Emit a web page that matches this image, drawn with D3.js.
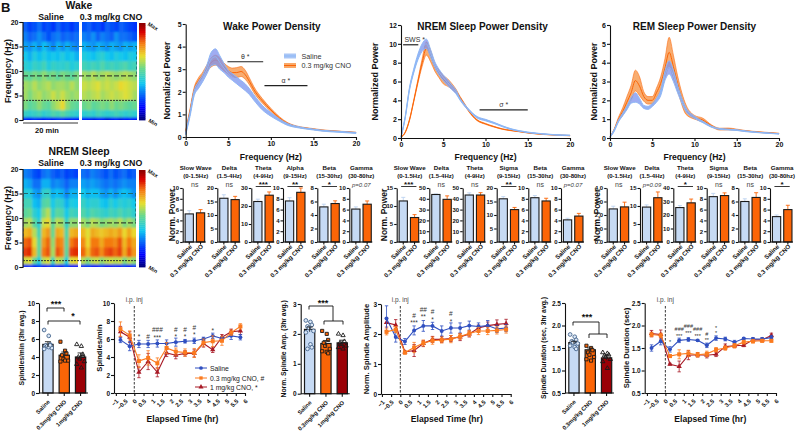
<!DOCTYPE html>
<html>
<head>
<meta charset="utf-8">
<script src="https://cdnjs.cloudflare.com/ajax/libs/d3/7.8.5/d3.min.js"></script>
<style>
	html, body { margin: 0; padding: 0; background: #fff; }
	svg { display: block; font-family: "Liberation Sans", Arial, sans-serif; }
	.axis path, .axis line { stroke: #111; stroke-width: 1.1px; }
	.axis text { fill: #111; font-weight: bold; }
</style>
</head>
<body>
<script>
	// spectrogram cells, rows run from 20 Hz down to 0 Hz, values on a 0-100 colour scale
	var freqEdges = [20, 18, 16, 14, 12, 10, 8, 6, 4, 2, 0.5, 0];
	var wakeSaline = [
		[24,20,22,26,20,22,18,24,20,22,18,22],
		[28,24,26,30,26,22,26,28,24,26,24,26],
		[32,30,34,30,36,32,28,34,30,34,30,28],
		[38,34,40,36,40,36,38,36,40,36,38,34],
		[42,40,44,42,46,40,44,42,42,44,40,42],
		[52,50,54,52,56,52,54,50,54,52,50,54],
		[58,56,60,56,58,60,56,58,58,56,60,56],
		[58,54,58,60,56,58,62,58,62,58,56,58],
		[54,50,52,56,52,50,56,60,66,56,52,50],
		[44,42,44,46,42,44,48,46,50,46,44,42],
		[14,12,16,14,12,14,12,16,14,12,14,12]];
	var wakeCno = [
		[22,24,20,22,18,24,22,20,24,22,20,18],
		[28,26,30,24,28,26,24,30,26,26,24,22],
		[34,32,30,34,32,30,34,32,30,34,32,34],
		[40,38,36,40,42,38,36,40,38,36,40,38],
		[46,44,46,44,48,44,46,44,46,48,44,46],
		[58,56,60,56,58,60,58,56,58,60,58,56],
		[62,60,62,64,60,62,60,62,66,64,62,60],
		[60,58,60,62,58,60,62,60,62,64,62,58],
		[52,54,50,52,54,52,56,52,54,52,50,52],
		[42,44,42,46,44,42,44,46,44,42,44,42],
		[14,12,10,14,12,8,12,14,10,12,14,12]];
	var nremSaline = [
		[28,26,22,20,26,28,24,22,24,20,22,20],
		[34,32,26,26,34,34,28,30,28,24,28,28],
		[40,40,32,30,42,44,34,36,34,28,34,34],
		[46,46,36,34,48,50,38,44,42,34,40,38],
		[50,52,42,38,54,60,42,50,48,38,46,44],
		[58,60,50,42,62,66,50,60,58,44,56,56],
		[70,72,60,46,70,74,52,72,70,48,70,72],
		[80,82,66,50,74,80,56,78,76,50,78,82],
		[84,86,70,50,78,82,58,82,78,50,84,86],
		[62,64,52,40,60,64,46,62,58,40,64,66],
		[16,18,14,20,14,16,20,16,14,22,14,14]];
	var nremCno = [
		[26,24,28,26,24,22,26,22,24,26,22,24],
		[32,30,32,30,28,26,28,26,28,30,28,28],
		[38,34,36,36,32,30,34,30,34,36,34,30],
		[44,40,42,42,38,36,42,38,42,40,42,38],
		[48,44,48,46,44,42,46,44,48,44,46,42],
		[58,54,60,58,54,56,58,56,60,54,58,54],
		[70,64,72,70,68,70,72,70,74,66,72,66],
		[76,66,78,78,72,78,78,76,82,70,78,72],
		[80,70,80,82,76,82,84,80,84,72,82,74],
		[60,54,60,62,56,60,62,60,62,54,60,56],
		[16,18,14,14,18,14,14,16,14,18,14,18]];

	// power density curves
	var freqs = [0,.5,1,1.5,2,2.5,3,3.5,4,4.5,5,5.5,6,6.5,7,7.5,8,9,10,11,12,13,14,15,16,18,20];
	var wakeSalMean = [.15,1,1.95,2.3,2.6,3,3.45,3.55,3.3,3.05,2.8,2.65,2.5,2.35,2.2,2,1.75,1.3,1,.75,.55,.45,.38,.33,.28,.23,.18];
	var wakeSalErr = [.05,.1,.12,.15,.15,.2,.3,.35,.3,.2,.15,.15,.15,.15,.15,.13,.12,.1,.08,.05,.04,.03,.02,.02,.02,.02,.02];
	var wakeCnoMean = [.25,1.15,2.1,2.5,2.75,3.05,3.3,3.4,3.3,3.1,2.95,2.85,2.85,2.9,2.75,2.45,2.1,1.6,1.2,.85,.6,.47,.4,.35,.3,.25,.2];
	var wakeCnoErr = [.05,.08,.1,.12,.12,.15,.2,.22,.2,.17,.17,.2,.22,.22,.2,.15,.13,.1,.07,.05,.03,.02,.02,.02,.02,.01,.01];
	var nremSalMean = [.1,2.2,5.2,7.1,8.6,9.6,10,9,7.8,7,6.4,5.9,5.4,4.9,4.1,3.5,3,2.2,1.9,1.6,1.25,.95,.75,.6,.5,.35,.28];
	var nremSalErr = [.02,.1,.15,.2,.3,.4,.5,.4,.3,.3,.3,.3,.25,.2,.1,.1,.08,.08,.08,.06,.05,.04,.03,.03,.02,.02,.02];
	var nremCnoMean = [.1,.6,1.9,3.9,6,8,9.5,8.7,7.5,6.8,6.2,5.9,5.5,5,4.3,3.6,2.9,1.9,1.5,1.2,.95,.8,.68,.55,.45,.33,.25];
	var nremCnoErr = [.02,.05,.08,.1,.2,.4,.7,.6,.4,.4,.45,.4,.3,.2,.1,.1,.08,.06,.05,.04,.03,.03,.02,.02,.02,.02,.02];
	var remSalMean = [.05,.4,.9,1.25,1.6,2,2.15,1.95,1.65,1.6,1.75,2,2.4,3.3,3.75,3.3,2.6,1.5,1.1,.85,.6,.48,.45,.42,.36,.28,.22];
	var remSalErr = [.02,.05,.05,.07,.1,.15,.25,.15,.08,.08,.08,.1,.15,.25,.35,.3,.2,.1,.06,.04,.03,.02,.02,.02,.02,.01,.01];
	var remCnoMean = [.05,.45,1,1.4,1.9,2.4,3.05,2.75,2.2,2,2,2.4,2.9,3.7,4.55,3.8,2.9,1.5,1.1,.95,.65,.47,.48,.44,.38,.3,.24];
	var remCnoErr = [0,.03,.1,.2,.3,.4,.55,.5,.25,.2,.2,.25,.35,.5,.8,.6,.4,.25,.1,.1,.05,.05,.05,.03,.02,.02,.01];

	// band power bars: saline, CNO
	var groups = ["Saline", "0.3 mg/kg CNO"];
	var wakeBands = [["Slow Wave","(0-1.5Hz)"],["Delta","(1.5-4Hz)"],["Theta","(4-9Hz)"],["Alpha","(9-15Hz)"],["Beta","(15-30hz)"],["Gamma","(30-80hz)"]];
	var nremBands = [["Slow Wave","(0-1.5Hz)"],["Delta","(1.5-4Hz)"],["Theta","(4-9Hz)"],["Sigma","(9-15Hz)"],["Beta","(15-30hz)"],["Gamma","(30-80hz)"]];
	var wakeBarMax = [10,20,30,10,8,10];
	var wakeBarTicks = [[0,2,4,6,8,10],[0,5,10,15,20],[0,10,20,30],[0,2,4,6,8,10],[0,2,4,6,8],[0,2,4,6,8,10]];
	var wakeBarVals = [[5.2,5.4],[16.2,15.7],[22.5,26],[7.6,9.2],[5.2,5.7],[6.1,7]];
	var wakeBarErrs = [[.6,.6],[1.3,1.2],[1.3,1.8],[.6,.8],[.4,.4],[.4,.6]];
	var wakeBarSig = ["ns","ns","***","**","*","p=0.07"];
	var nremBarMax = [15,50,50,20,10,10];
	var nremBarTicks = [[0,5,10,15],[0,10,20,30,40,50],[0,10,20,30,40,50],[0,5,10,15,20],[0,2,4,6,8,10],[0,2,4,6,8,10]];
	var nremBarVals = [[11.4,6.8],[44,39.5],[43.5,43.5],[16,12],[8.2,7.6],[4.1,4.8]];
	var nremBarErrs = [[1,.8],[.5,3.2],[2,2.2],[.8,.8],[.4,.5],[.3,.5]];
	var nremBarSig = ["***","ns","ns","**","ns","p=0.07"];
	var remBarMax = [4,15,40,10,8,10];
	var remBarTicks = [[0,1,2,3,4],[0,5,10,15],[0,10,20,30,40],[0,2,4,6,8,10],[0,2,4,6,8],[0,2,4,6,8,10]];
	var remBarVals = [[2.45,2.6],[9.7,12.3],[25.5,29],[8.4,8.6],[6,6.6],[4.7,6]];
	var remBarErrs = [[.2,.35],[.6,1.6],[1.5,2.8],[.6,.5],[.4,.7],[.3,.8]];
	var remBarSig = ["ns","p=0.09","*","ns","ns","*"];

	// spindle summary bars and animals
	var doseNames = ["Saline", "0.3mg/kg CNO", "1mg/kg CNO"];
	var densBars = [5.4, 4.2, 4.0];
	var densErrs = [.3, .35, .45];
	var densPts = [[7,6.35,5.4,5.3,5.2,5,4.9,5.1,5.3],[5.7,4.7,4.4,4.2,3.8,3.6,3.5,3.6],[5.4,5.2,4.3,4,3.8,3.5,3.2,2.8,4.1]];
	var ampBars = [2.15, 1.68, 1.7];
	var ampErrs = [.08, .1, .09];
	var ampPts = [[2.45,2.4,2.3,2.25,2.2,2.1,2.05,1.65,1.55,1.5],[2.1,2,1.8,1.7,1.6,1.5,1.42,1.4,1.35],[2,1.95,1.75,1.7,1.65,1.6,1.55,1.5]];
	var durBars = [1.62, 1.46, 1.28];
	var durErrs = [.03, .04, .05];
	var durPts = [[1.8,1.75,1.68,1.65,1.62,1.6,1.55,1.52,1.48],[1.55,1.5,1.45,1.4,1.35,1.3,1.25,1.22],[1.4,1.38,1.35,1.33,1.3,1.25,1.2,1.05]];

	// spindle time courses
	var timeTicks = [-1,-.5,0,.5,1,1.5,2,2.5,3,3.5,4,4.5,5,5.5,6];
	var times = [-.75,-.25,.25,.75,1.25,1.75,2.25,2.75,3.25,3.75,4.25,4.75,5.25,5.75];
	var densSal = [5.9,5.2,5.45,5.45,5.5,5.5,5.65,5.75,5.8,6,6.35,6.05,6.35,6.2];
	var densSalErr = [.3,.5,.4,.4,.4,.4,.45,.2,.3,.2,.3,.2,.4,.3];
	var densLow = [7.1,6.4,3.55,3.9,3.3,5,4.6,4.5,4.45,5.6,5.75,5.8,6.7,7.4];
	var densLowErr = [.8,.5,.7,.8,.6,.6,.4,.4,.5,.4,.6,.5,.3,.3];
	var densHigh = [6.8,6.2,2.3,3.5,2.3,4.45,4.2,4.4,4.4,5.5,4.8,6.2,6.8,6.9];
	var densHighErr = [.6,.6,.6,.9,.5,.4,.4,.3,.4,.4,.3,.3,.3,.4];
	var ampSal = [2.52,1.9,1.75,2.12,2.27,2.27,2.1,2.2,2.2,2.28,2.25,2.28,2.17,2.2];
	var ampSalErr = [.42,.17,.1,.15,.18,.12,.17,.17,.17,.15,.12,.17,.12,.12];
	var ampLow = [2.07,2.15,1.38,1.55,1.7,1.78,1.8,1.83,1.92,2.02,2.1,2.1,2.12,2.15];
	var ampLowErr = [.1,.1,.05,.17,.1,.12,.1,.12,.1,.1,.12,.12,.12,.12];
	var ampHigh = [2.38,2.3,1.4,1.45,1.68,1.82,1.82,1.85,1.9,2,2.2,2.28,2.32,2.35];
	var ampHighErr = [.15,.18,.03,.2,.1,.1,.1,.1,.12,.1,.1,.12,.15,.14];
	var durSal = [1.5,1.65,1.47,1.67,1.69,1.67,1.56,1.72,1.7,1.63,1.71,1.7,1.7,1.73];
	var durSalErr = [.07,.08,.06,.05,.04,.02,.05,.05,.04,.04,.02,.03,.03,.05];
	var durLow = [1.8,1.78,1.32,1.36,1.38,1.35,1.37,1.46,1.5,1.55,1.63,1.65,1.66,1.66];
	var durLowErr = [.05,.05,.03,.1,.07,.05,.06,.05,.05,.05,.04,.04,.03,.03];
	var durHigh = [1.82,1.8,1.14,1.09,1.34,1.35,1.34,1.36,1.53,1.55,1.56,1.68,1.68,1.78];
	var durHighErr = [.07,.1,.02,.12,.1,.05,.06,.05,.06,.04,.03,.04,.04,.05];

	var lightBlue = "#c6daf4", salLine = "#8db8f6", salBand = "#7f90ee";
	var orange = "#fb6507", orangeBand = "#f8a868", darkRed = "#9a0006";
	var lineBlue = "#2f4fc0", lineOrange = "#fb7a1e", lineRed = "#a81a26";

	var svg = d3.select("body").append("svg").attr("width", 797).attr("height", 433);

	var defs = svg.append("defs");
	defs.append("filter").attr("id", "soft").append("feGaussianBlur").attr("stdDeviation", "0.9 1.3");

	var jet = d3.scaleLinear()
		.domain([0, 12, 37, 52, 65, 78, 90, 100])
		.range(["#00007f", "#0000ff", "#10c8f0", "#68d890", "#e8e030", "#f47a10", "#d80000", "#7f0000"]);

	function label(x, y, txt, size, opts) {
		opts = opts || {};
		var t = svg.append("text")
			.attr("x", x)
			.attr("y", y)
			.attr("text-anchor", opts.anchor || "middle")
			.style("font-size", size + "px")
			.style("font-weight", opts.weight || "bold")
			.style("font-style", opts.italic ? "italic" : "normal")
			.attr("fill", opts.fill || "#111")
			.text(txt);
		if (opts.rotate) t.attr("transform", "rotate(" + opts.rotate + " " + x + " " + y + ")");
		return t;
	}

	function seg(x1, y1, x2, y2, w, color, dash) {
		var l = svg.append("line")
			.attr("x1", x1).attr("y1", y1).attr("x2", x2).attr("y2", y2)
			.attr("stroke", color || "#111")
			.attr("stroke-width", w || 1);
		if (dash) l.attr("stroke-dasharray", dash);
		return l;
	}

	var clipCount = 0;
	function spectrogram(cells, x0, x1, y) {
		var id = "clip" + (clipCount++);
		defs.append("clipPath").attr("id", id).append("rect")
			.attr("x", x0).attr("y", y(20)).attr("width", x1 - x0).attr("height", y(0) - y(20));
		var cx = d3.scaleLinear().domain([0, 12]).range([x0, x1]);
		var g = svg.append("g").attr("clip-path", "url(#" + id + ")").append("g").attr("filter", "url(#soft)");
		cells.forEach(function(row, r) {
			g.selectAll(null).data(row).enter().append("rect")
				.attr("x", function(d, c) { return cx(c) - (c == 0 ? 5 : 0); })
				.attr("width", function(d, c) { return cx(c + 1) - cx(c) + (c == 0 || c == 11 ? 5.5 : 0.5); })
				.attr("y", y(freqEdges[r]) - (r == 0 ? 5 : 0))
				.attr("height", y(freqEdges[r + 1]) - y(freqEdges[r]) + (r == 0 || r == 10 ? 5.5 : 0.5))
				.attr("fill", function(d) { return jet(d); });
		});
	}

	function spectroPanel(title, titleY, top, bot, cellsA, cellsB, xs, lowFreq) {
		var y = d3.scaleLinear().domain([0, 20]).range([bot, top]);
		spectrogram(cellsA, xs[0], xs[1], y);
		spectrogram(cellsB, xs[2], xs[3], y);
		svg.append("g").attr("class", "axis")
			.attr("transform", "translate(" + (xs[0] - 0.5) + ",0)")
			.call(d3.axisLeft(y).tickValues([0, 5, 10, 15, 20]).tickSize(3).tickPadding(1))
			.selectAll("text").style("font-size", "7px");
		label(79, titleY, title, 10.4);
		label(51, titleY + 11, "Saline", 8.7);
		label(111, titleY + 11, "0.3 mg/kg CNO", 8.8);
		label(10.5, (top + bot) / 2, "Frequency (Hz)", 8.9, {rotate: -90});

		// band boxes
		seg(xs[0], y(15), xs[3], y(15), 1, "#1d6a70", "5 2");
		seg(xs[0], y(9), xs[3], y(9), 1, "#222", "5 2");
		seg(xs[0], y(lowFreq), xs[3], y(lowFreq), 0.9, "#222", "2 1");
		seg(xs[0] + 0.5, y(15), xs[0] + 0.5, y(lowFreq), 0.8, "#444", "3 2");
		seg(xs[3] - 0.5, y(15), xs[3] - 0.5, y(9), 0.8, "#1d6a70", "3 2");

		// colour bar, cells come from the colour scale itself
		var barY = d3.scaleLinear().domain([0, 100]).range([bot, top + 1]);
		svg.selectAll(null).data(d3.range(0, 100, 2)).enter().append("rect")
			.attr("x", 139).attr("width", 6.5)
			.attr("y", function(d) { return barY(d + 2); })
			.attr("height", function(d) { return barY(d) - barY(d + 2) + 0.4; })
			.attr("fill", function(d) { return jet(d); });
		label(152, top + 6, "Max", 5.5, {rotate: 30});
		label(152, bot + 4, "Min", 5.5, {rotate: 30});
	}

	function densityPanel(cfg) {
		var x = d3.scaleLinear().domain([0, 20]).range(cfg.xr);
		var y = d3.scaleLinear().domain([0, cfg.ymax]).range(cfg.yr);
		var area = d3.area().x(function(d) { return x(d[0]); })
			.y0(function(d) { return y(Math.max(0, d[1] - d[2])); })
			.y1(function(d) { return y(d[1] + d[2]); })
			.curve(d3.curveMonotoneX);
		var line = d3.line().x(function(d) { return x(d[0]); }).y(function(d) { return y(d[1]); }).curve(d3.curveMonotoneX);
		var sal = freqs.map(function(f, i) { return [f, cfg.sal[i], cfg.salErr[i]]; });
		var cno = freqs.map(function(f, i) { return [f, cfg.cno[i], cfg.cnoErr[i]]; });
		function drawCno() {
			svg.append("path").datum(cno).attr("d", area).attr("fill", orangeBand).attr("stroke", orange).attr("stroke-width", 0.6).attr("opacity", 0.95);
			svg.append("path").datum(cno).attr("d", line).attr("fill", "none").attr("stroke", orange).attr("stroke-width", 1);
		}
		function drawSal() {
			svg.append("path").datum(sal).attr("d", area).attr("fill", salBand).attr("fill-opacity", 0.75).attr("stroke", salLine).attr("stroke-width", 1);
			svg.append("path").datum(sal).attr("d", line).attr("fill", "none").attr("stroke", salLine).attr("stroke-width", 1);
		}
		drawCno();
		drawSal();
		svg.append("g").attr("class", "axis").attr("transform", "translate(" + cfg.xr[0] + ",0)")
			.call(d3.axisLeft(y).ticks(cfg.yticks).tickSize(3).tickPadding(1).tickSizeOuter(0))
			.selectAll("text").style("font-size", "7px");
		svg.append("g").attr("class", "axis").attr("transform", "translate(0," + cfg.yr[0] + ")")
			.call(d3.axisBottom(x).tickValues([0, 5, 10, 15, 20]).tickSize(3).tickPadding(1).tickSizeOuter(0))
			.selectAll("text").style("font-size", "7px");
		label(d3.mean(cfg.xr) + cfg.titleDx, 29.5, cfg.title, 10);
		label(d3.mean(cfg.xr), 160, "Frequency (Hz)", 8.6);
		label(cfg.ytitleX, d3.mean(cfg.yr), "Normalized Power", 9, {rotate: -90});
		(cfg.sig || []).forEach(function(s) {
			seg(x(s[0]), y(s[2]), x(s[1]), y(s[2]), 1.2, "#222");
			label(x((s[0] + s[1]) / 2) + (s[4] || 0), y(s[2]) - 2.5, s[3], 7, {weight: "normal", fill: "#333"});
		});
		return {x: x, y: y};
	}

	function barRow(cfg) {
		var top = 188, bot = 242;
		cfg.bands.forEach(function(band, i) {
			var ax = cfg.axes[i];
			var x = d3.scaleBand().domain(groups).range([ax + 2.2, ax + 22.2]).paddingInner(0.27).paddingOuter(0.02);
			var y = d3.scaleLinear().domain([0, cfg.max[i]]).range([bot, top]);
			groups.forEach(function(gname, k) {
				var v = cfg.vals[i][k], e = cfg.errs[i][k];
				var cx = x(gname) + x.bandwidth() / 2;
				seg(cx, y(v), cx, y(v + e), 0.9, k == 0 ? "#bcd2f0" : orange);
				seg(cx - 2, y(v + e), cx + 2, y(v + e), 0.9, k == 0 ? "#bcd2f0" : orange);
			});
			svg.selectAll(null).data(groups).enter().append("rect")
				.attr("x", function(d) { return x(d); })
				.attr("width", x.bandwidth())
				.attr("y", function(d, k) { return y(cfg.vals[i][k]); })
				.attr("height", function(d, k) { return bot - y(cfg.vals[i][k]); })
				.attr("fill", function(d, k) { return k == 0 ? lightBlue : orange; })
				.attr("stroke", "#1a1a1a")
				.attr("stroke-width", 1.1);
			svg.append("g").attr("class", "axis").attr("transform", "translate(" + ax + ",0)")
				.call(d3.axisLeft(y).tickValues(cfg.ticks[i]).tickSize(2.5).tickPadding(1).tickSizeOuter(0))
				.selectAll("text").style("font-size", "6px");
			var xg = svg.append("g").attr("class", "axis").attr("transform", "translate(0," + bot + ")")
				.call(d3.axisBottom(x).tickSize(2.5).tickSizeOuter(0));
			xg.select("path").attr("d", "M" + ax + ",0H" + (ax + 23));
			xg.selectAll("text")
				.style("font-size", "6.2px")
				.attr("text-anchor", "end")
				.attr("dx", "-1.3").attr("dy", "0.2")
				.attr("transform", "rotate(-45)");
			var mid = ax + 12;
			label(mid + (i == 0 ? 1 : 0), 170, band[0], 6.2);
			label(mid + (i == 0 ? 1 : 0), 178, band[1], 6);
			var s = cfg.sig[i];
			if (s == "ns") {
				label(mid, 187, s, 7, {weight: "normal", fill: "#444"});
			} else if (s[0] == "p") {
				label(mid, 187, s, 6, {weight: "normal", italic: true, fill: "#444"});
			} else {
				seg(x(groups[0]) + 2, 186.5, x(groups[1]) + 6, 186.5, 0.9, "#222");
				label(mid, 187, s, 8);
			}
		});
		label(cfg.titleX, 215, "Norm. Power", 8.5, {rotate: -90});
	}

	var doseSymbols = [d3.symbolCircle, d3.symbolSquare, d3.symbolTriangle];
	var doseFills = [lightBlue, orange, darkRed];
	var doseStroke = ["#44648c", "#1a1a1a", "#1a1a1a"];

	function summaryBars(cfg) {
		var y = d3.scaleLinear().domain(cfg.ydom).range([cfg.bot, cfg.top]);
		var x = d3.scaleBand().domain(doseNames).range([cfg.ax + 2.5, cfg.ax + 48]).paddingInner(0.37).paddingOuter(0.08);
		svg.selectAll(null).data(doseNames).enter().append("rect")
			.attr("x", function(d) { return x(d); })
			.attr("width", x.bandwidth())
			.attr("y", function(d, i) { return y(cfg.vals[i]); })
			.attr("height", function(d, i) { return cfg.bot - y(cfg.vals[i]); })
			.attr("fill", function(d, i) { return doseFills[i]; })
			.attr("stroke", "#1a1a1a")
			.attr("stroke-width", 1.2);
		doseNames.forEach(function(d, i) {
			var cx = x(d) + x.bandwidth() / 2;
			cfg.pts[i].forEach(function(v, j) {
				// small sideways spread so the animals do not sit on top of each other
				var off = (j % 3 - 1) * 3 + (j % 2 ? 0.8 : -0.8);
				svg.append("path")
					.attr("d", d3.symbol().type(doseSymbols[i]).size(i == 0 ? 11 : (i == 1 ? 10 : 8))())
					.attr("transform", "translate(" + (cx + off) + "," + y(v) + ")")
					.attr("fill", i == 0 ? "#dce8f7" : (i == 1 ? orange : "none"))
					.attr("stroke", doseStroke[i])
					.attr("stroke-width", 0.9);
			});
			seg(cx, y(cfg.vals[i] + cfg.errs[i]), cx, y(cfg.vals[i] - cfg.errs[i]), 0.9, "#222");
			seg(cx - 3, y(cfg.vals[i] + cfg.errs[i]), cx + 3, y(cfg.vals[i] + cfg.errs[i]), 0.9, "#222");
		});
		svg.append("g").attr("class", "axis").attr("transform", "translate(" + cfg.ax + ",0)")
			.call(d3.axisLeft(y).tickValues(cfg.ticks).tickFormat(cfg.fmt).tickSize(3).tickPadding(1).tickSizeOuter(0))
			.selectAll("text").style("font-size", "6.5px");
		var xg = svg.append("g").attr("class", "axis").attr("transform", "translate(0," + cfg.bot + ")")
			.call(d3.axisBottom(x).tickSize(3).tickSizeOuter(0));
		xg.select("path").attr("d", "M" + cfg.ax + ",0H" + (cfg.ax + 49));
		xg.selectAll("text")
			.style("font-size", "5.8px")
			.attr("text-anchor", "end")
			.attr("dx", "-4.9").attr("dy", "2.3")
			.attr("transform", "rotate(-45)");
		label(cfg.titleX, (cfg.top + cfg.bot) / 2, cfg.title, 6.8, {rotate: -90});
		return {x: x, y: y};
	}

	function timeCourse(cfg) {
		var x = d3.scaleLinear().domain(cfg.xdom).range(cfg.xr);
		var y = d3.scaleLinear().domain(cfg.ydom).range([cfg.bot, cfg.top]);
		var series = [
			{v: cfg.high, e: cfg.highErr, c: lineRed, s: d3.symbolTriangle, sz: 12},
			{v: cfg.sal, e: cfg.salErr, c: lineBlue, s: d3.symbolCircle, sz: 12},
			{v: cfg.low, e: cfg.lowErr, c: lineOrange, s: d3.symbolSquare, sz: 16}
		];
		seg(x(0), cfg.dashTop, x(0), cfg.bot, 0.9, "#222", "2.5 1.5");
		series.forEach(function(s) {
			var line = d3.line().x(function(d, i) { return x(times[i]); }).y(function(d) { return y(d); });
			svg.append("path").datum(s.v).attr("d", line).attr("fill", "none").attr("stroke", s.c).attr("stroke-width", 1.1);
			s.v.forEach(function(v, i) {
				var cx = x(times[i]);
				seg(cx, y(v - s.e[i]), cx, y(v + s.e[i]), 0.8, s.c);
				seg(cx - 1.7, y(v - s.e[i]), cx + 1.7, y(v - s.e[i]), 0.8, s.c);
				seg(cx - 1.7, y(v + s.e[i]), cx + 1.7, y(v + s.e[i]), 0.8, s.c);
				svg.append("path")
					.attr("d", d3.symbol().type(s.s).size(s.sz)())
					.attr("transform", "translate(" + cx + "," + y(v) + ")")
					.attr("fill", s.c);
			});
		});
		svg.append("g").attr("class", "axis").attr("transform", "translate(" + cfg.xr[0] + ",0)")
			.call(d3.axisLeft(y).tickValues(cfg.ticks).tickFormat(cfg.fmt).tickSize(3).tickPadding(1).tickSizeOuter(0))
			.selectAll("text").style("font-size", "6.5px");
		svg.append("g").attr("class", "axis").attr("transform", "translate(0," + cfg.bot + ")")
			.call(d3.axisBottom(x).tickValues(timeTicks).tickFormat(d3.format("")).tickSize(3).tickSizeOuter(0))
			.selectAll("text")
			.style("font-size", "6px")
			.attr("text-anchor", "end")
			.attr("dx", "-4.3").attr("dy", "2")
			.attr("transform", "rotate(-45)");
		label(x(0), 302, "i.p. inj", 6.5, {weight: "normal", fill: "#444"});
		label(cfg.titleX, (cfg.top + cfg.bot) / 2, cfg.title, 7.6, {rotate: -90});
		label(d3.mean(cfg.xr) + cfg.xlabDx, 422, "Elapsed Time (hr)", 8.6);
		cfg.marks.forEach(function(m) {
			label(x(m[0]), y(m[1]) + 2.5, m[2], cfg.markSize || 6.5, {weight: "normal", fill: "#333"});
		});
		return {x: x, y: y};
	}

	// ---- spectrograms
	spectroPanel("Wake", 8.5, 22, 120, wakeSaline, wakeCno, [23, 79, 82, 137], 4);
	spectroPanel("NREM Sleep", 155, 169, 267, nremSaline, nremCno, [23, 78, 81, 136], 1.3);
	seg(23, 123, 78, 123, 0.9, "#222");
	label(47, 133, "20 min", 7.5);
	label(1, 11.5, "B", 13, {anchor: "start"});

	// ---- power density
	densityPanel({
		title: "Wake Power Density", titleDx: 1, xr: [185.7, 356], yr: [137, 24], ymax: 5, yticks: 5, ytitleX: 170,
		sal: wakeSalMean, salErr: wakeSalErr, cno: wakeCnoMean, cnoErr: wakeCnoErr,
		sig: [[4.9, 9.1, 3.33, "θ *"], [9.25, 14.3, 2.27, "α *"]]
	});
	densityPanel({
		title: "NREM Sleep Power Density", titleDx: -3, xr: [401, 570], yr: [138, 25], ymax: 12, yticks: 4, ytitleX: 378,
		sal: nremSalMean, salErr: nremSalErr, cno: nremCnoMean, cnoErr: nremCnoErr,
		sig: [[0.25, 2.05, 9.9, "SWS *", 4], [9.3, 15, 2.98, "σ *"]]
	});
	densityPanel({
		title: "REM Sleep Power Density", titleDx: 0, xr: [610, 779], yr: [138, 25], ymax: 6, yticks: 6, ytitleX: 597,
		sal: remSalMean, salErr: remSalErr, cno: remCnoMean, cnoErr: remCnoErr
	});

	// wake legend
	[["Saline", salLine, "#a9c6f6", 56], ["0.3 mg/kg CNO", orange, orangeBand, 65.5]].forEach(function(l) {
		svg.append("rect").attr("x", 284).attr("y", l[3] - 2.5).attr("width", 12).attr("height", 5).attr("fill", l[2]);
		seg(284, l[3], 296, l[3], 1, l[1]);
		label(301.5, l[3] + 2.5, l[0], 7.2, {anchor: "start", weight: "normal", fill: "#333"});
	});

	// ---- band bars
	barRow({titleX: 175, axes: [182.7, 217.3, 251.3, 283, 317.3, 349.3], bands: wakeBands, max: wakeBarMax, ticks: wakeBarTicks, vals: wakeBarVals, errs: wakeBarErrs, sig: wakeBarSig});
	barRow({titleX: 387, axes: [396.7, 429.3, 462.7, 496.7, 528.3, 561], bands: nremBands, max: nremBarMax, ticks: nremBarTicks, vals: nremBarVals, errs: nremBarErrs, sig: nremBarSig});
	barRow({titleX: 600, axes: [606.7, 640, 673.3, 706.7, 738.3, 770], bands: nremBands, max: remBarMax, ticks: remBarTicks, vals: remBarVals, errs: remBarErrs, sig: remBarSig});

	// ---- spindle summaries
	summaryBars({ax: 39, top: 303, bot: 393, ydom: [0, 10], ticks: [0, 2, 4, 6, 8, 10], fmt: d3.format("d"), vals: densBars, errs: densErrs, pts: densPts, titleX: 24, title: "Spindles/min (3hr avg.)"});
	summaryBars({ax: 300.7, top: 304, bot: 393.7, ydom: [0, 3], ticks: [0, 1, 2, 3], fmt: d3.format("d"), vals: ampBars, errs: ampErrs, pts: ampPts, titleX: 286, title: "Norm. Spindle Amp. (3hr avg.)"});
	summaryBars({ax: 565, top: 303, bot: 393, ydom: [.5, 2.5], ticks: [.5, 1, 1.5, 2, 2.5], fmt: d3.format(".1f"), vals: durBars, errs: durErrs, pts: durPts, titleX: 546, title: "Spindle Duration (sec, 3hr avg.)"});

	// significance brackets on summaries
	function bracket(x1, x2, y, tipL, tipR) {
		svg.append("path")
			.attr("d", "M" + x1 + "," + (y + tipL) + "V" + y + "H" + x2 + "V" + (y + tipR))
			.attr("fill", "none").attr("stroke", "#111").attr("stroke-width", 0.9);
	}
	bracket(47, 64, 308, 3.5, 3.5);
	label(56, 307, "***", 9);
	bracket(48, 80, 321, 3.5, 3.5);
	label(73, 319, "*", 9);
	bracket(309, 333, 306, 3.5, 15);
	label(323, 305.5, "***", 9);
	bracket(324, 343, 321, 3.5, 3.5);
	bracket(573, 599, 322, 3.5, 12);
	label(587, 320, "***", 9);
	bracket(589, 607, 334, 4, 4);

	// ---- time courses
	timeCourse({xdom: [-1.1, 6], xr: [114, 245], top: 303, bot: 393, dashTop: 306, ydom: [0, 10], ticks: [0, 2, 4, 6, 8, 10], fmt: d3.format("d"),
		sal: densSal, salErr: densSalErr, low: densLow, lowErr: densLowErr, high: densHigh, highErr: densHighErr,
		titleX: 102, title: "Spindles/min", xlabDx: 3,
		marks: [[.25, 6.3, "*"], [.75, 6.3, "#"], [1.25, 7.1, "###"], [1.25, 6.2, "***"], [2.25, 7.1, "#"], [2.25, 6.3, "*"], [2.75, 7.1, "#"], [2.75, 6.3, "*"], [3.25, 7.3, "#"], [3.25, 6.5, "*"], [4.25, 7.0, "*"]]});
	timeCourse({xdom: [-1.05, 6], xr: [381, 510.7], top: 304, bot: 394, dashTop: 306, ydom: [0, 3], ticks: [0, 1, 2, 3], fmt: d3.format("d"),
		sal: ampSal, salErr: ampSalErr, low: ampLow, lowErr: ampLowErr, high: ampHigh, highErr: ampHighErr,
		titleX: 369, title: "Norm. Spindle Amplitude", xlabDx: 1,
		marks: [[.75, 2.62, "#"], [.75, 2.38, "***"], [1.25, 2.82, "##"], [1.25, 2.57, "**"], [1.75, 2.75, "#"], [1.75, 2.47, "*"], [2.75, 2.7, "#"], [2.75, 2.42, "*"]]});
	timeCourse({xdom: [-1.12, 6], xr: [644.7, 776], top: 303, bot: 393, dashTop: 306, ydom: [.5, 2.5], ticks: [.5, 1, 1.5, 2, 2.5], fmt: d3.format(".1f"),
		sal: durSal, salErr: durSalErr, low: durLow, lowErr: durLowErr, high: durHigh, highErr: durHighErr,
		titleX: 629, title: "Spindle Duration (sec)", xlabDx: 0, markSize: 5.5,
		marks: [[.25, 1.65, "*"], [.75, 1.94, "###"], [.75, 1.78, "***"], [1.25, 2.0, "###"], [1.25, 1.84, "***"], [1.75, 1.94, "###"], [1.75, 1.78, "***"], [2.25, 1.82, "#"], [2.25, 1.68, "**"], [2.75, 1.96, "*"], [2.75, 1.84, "*"]]});

	// spindle legend
	[["Saline", lineBlue, d3.symbolCircle, 368], ["0.3 mg/kg CNO, #", lineOrange, d3.symbolSquare, 378], ["1 mg/kg CNO, *", lineRed, d3.symbolTriangle, 387]].forEach(function(l) {
		seg(195, l[3], 207, l[3], 1, l[1]);
		svg.append("path").attr("d", d3.symbol().type(l[2]).size(11)()).attr("transform", "translate(201," + l[3] + ")").attr("fill", l[1]);
		label(210, l[3] + 2.5, l[0], 6.8, {anchor: "start", weight: "normal", fill: "#222"});
	});
</script>
</body>
</html>
